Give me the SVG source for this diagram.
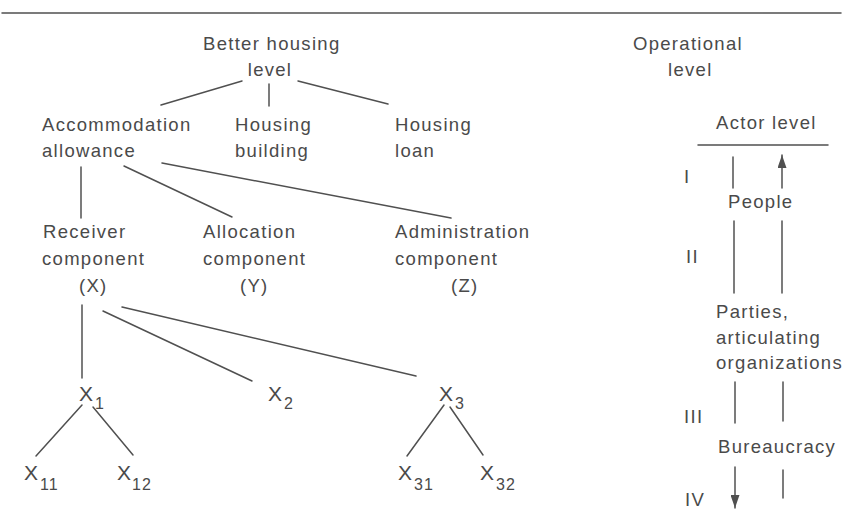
<svg xmlns="http://www.w3.org/2000/svg" width="843" height="524" viewBox="0 0 843 524">
<style>
  text { font-family: "Liberation Sans", Arial, sans-serif; font-size: 18.5px; letter-spacing: 1.3px; fill: #4a4a4a; }
  .x { font-size: 21px; letter-spacing: 0; }
  .sub { font-size: 16px; letter-spacing: 1px; }
  .ln { stroke: #505050; stroke-width: 1.5; fill: none; stroke-linecap: round; }
</style>
<defs>
  <marker id="arr" markerUnits="userSpaceOnUse" markerWidth="14" markerHeight="9" refX="13" refY="4.5" orient="auto">
    <path d="M0,0 L13,4.5 L0,9 Z" fill="#505050"/>
  </marker>
</defs>
<rect width="843" height="524" fill="#ffffff"/>
<line class="ln" x1="2" y1="13" x2="841" y2="13" stroke="#666"/>

<g id="better-housing">
  <text x="203" y="50">Better housing</text>
  <text x="270" y="76" text-anchor="middle">level</text>
</g>
<g id="operational-level">
  <text x="633" y="50">Operational</text>
  <text x="668" y="76">level</text>
</g>
<g id="accommodation">
  <text x="42" y="131">Accommodation</text>
  <text x="42" y="157">allowance</text>
</g>
<g id="housing-building">
  <text x="235" y="131">Housing</text>
  <text x="235" y="157">building</text>
</g>
<g id="housing-loan">
  <text x="395" y="131">Housing</text>
  <text x="395" y="157">loan</text>
</g>
<g id="receiver">
  <text x="43" y="238">Receiver</text>
  <text x="42" y="265">component</text>
  <text x="79" y="292">(X)</text>
</g>
<g id="allocation">
  <text x="203" y="238">Allocation</text>
  <text x="203" y="265">component</text>
  <text x="240" y="292">(Y)</text>
</g>
<g id="administration">
  <text x="395" y="238">Administration</text>
  <text x="395" y="265">component</text>
  <text x="451" y="292">(Z)</text>
</g>
<g id="x1"><text class="x" x="79" y="401">X<tspan class="sub" x="95" y="409">1</tspan></text></g>
<g id="x2"><text class="x" x="268" y="401">X<tspan class="sub" x="284" y="409">2</tspan></text></g>
<g id="x3"><text class="x" x="439" y="401">X<tspan class="sub" x="455" y="409">3</tspan></text></g>
<g id="x11"><text class="x" x="24" y="480">X<tspan class="sub" x="40" y="490">11</tspan></text></g>
<g id="x12"><text class="x" x="117" y="480">X<tspan class="sub" x="132" y="490">12</tspan></text></g>
<g id="x31"><text class="x" x="398" y="480">X<tspan class="sub" x="414" y="490">31</tspan></text></g>
<g id="x32"><text class="x" x="480" y="480">X<tspan class="sub" x="496" y="490">32</tspan></text></g>

<g id="actor-level">
  <text x="716" y="129">Actor level</text>
  <line class="ln" x1="698" y1="145" x2="828" y2="145"/>
</g>
<g id="people"><text x="728" y="208">People</text></g>
<g id="parties">
  <text x="716" y="318">Parties,</text>
  <text x="716" y="344">articulating</text>
  <text x="716" y="369">organizations</text>
</g>
<g id="bureaucracy"><text x="718" y="453">Bureaucracy</text></g>
<g id="numerals">
  <text x="684" y="183">I</text>
  <text x="686" y="263">II</text>
  <text x="684" y="423">III</text>
  <text x="685" y="506">IV</text>
</g>

<g id="connectors">
  <line class="ln" x1="242" y1="81" x2="161" y2="105"/>
  <line class="ln" x1="269" y1="84" x2="269" y2="106"/>
  <line class="ln" x1="298" y1="81" x2="388" y2="104"/>
  <line class="ln" x1="81" y1="167" x2="81" y2="218"/>
  <line class="ln" x1="124" y1="166" x2="232" y2="217"/>
  <line class="ln" x1="162" y1="163" x2="451" y2="218"/>
  <line class="ln" x1="82" y1="305" x2="82" y2="378"/>
  <line class="ln" x1="103" y1="311" x2="252" y2="381"/>
  <line class="ln" x1="122" y1="307" x2="416" y2="376"/>
  <line class="ln" x1="82" y1="405" x2="36" y2="456"/>
  <line class="ln" x1="93" y1="407" x2="133" y2="455"/>
  <line class="ln" x1="444" y1="405" x2="407" y2="456"/>
  <line class="ln" x1="450" y1="407" x2="483" y2="455"/>
  <line class="ln" x1="733" y1="157" x2="733" y2="188"/>
  <line class="ln" x1="782" y1="188" x2="782" y2="155" marker-end="url(#arr)"/>
  <line class="ln" x1="734" y1="221" x2="734" y2="293"/>
  <line class="ln" x1="782" y1="221" x2="782" y2="293"/>
  <line class="ln" x1="735" y1="382" x2="735" y2="423"/>
  <line class="ln" x1="783" y1="382" x2="783" y2="421"/>
  <line class="ln" x1="735" y1="467" x2="735" y2="508" marker-end="url(#arr)"/>
  <line class="ln" x1="783" y1="470" x2="783" y2="498"/>
</g>
</svg>
